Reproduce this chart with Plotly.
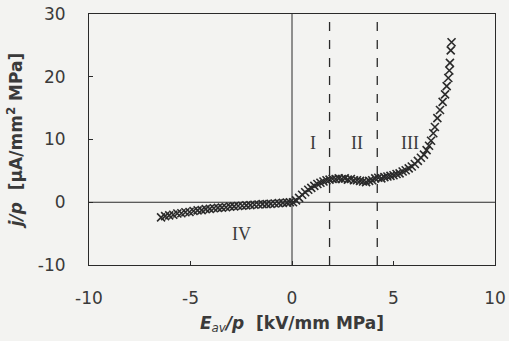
import plotly.graph_objects as go

# Data
x_neg = [-6.45, -6.25, -6.05, -5.85, -5.65, -5.45, -5.25, -5.05, -4.85, -4.65, -4.45,
         -4.25, -4.05, -3.85, -3.65, -3.45, -3.25, -3.05, -2.85, -2.65, -2.45, -2.25,
         -2.05, -1.85, -1.65, -1.45, -1.25, -1.05, -0.85, -0.65, -0.45, -0.25, -0.1]
y_neg = [-2.4, -2.2, -2.1, -2.0, -1.8, -1.75, -1.6, -1.55, -1.4, -1.3, -1.25,
         -1.1, -1.05, -0.95, -0.9, -0.85, -0.8, -0.7, -0.65, -0.6, -0.55, -0.5,
         -0.45, -0.4, -0.35, -0.3, -0.3, -0.25, -0.2, -0.15, -0.1, -0.05, 0.0]
x_pos = [0.05, 0.2, 0.35, 0.5, 0.65, 0.8, 0.95, 1.1, 1.25, 1.4, 1.55, 1.7, 1.85, 2.0,
         2.15, 2.3, 2.45, 2.6, 2.75, 2.9, 3.05, 3.2, 3.35, 3.5, 3.65, 3.8, 3.95, 4.1,
         4.25, 4.4, 4.55, 4.7, 4.85, 5.0, 5.15, 5.3, 5.45, 5.6, 5.75, 5.9, 6.05, 6.2,
         6.35, 6.5, 6.63, 6.75, 6.85, 6.96, 7.04, 7.16, 7.29, 7.42, 7.54, 7.62, 7.7,
         7.75, 7.78, 7.82, 7.86]
y_pos = [0.0, 0.3, 0.7, 1.2, 1.6, 2.0, 2.3, 2.6, 2.9, 3.1, 3.3, 3.5, 3.6, 3.7,
         3.7, 3.8, 3.7, 3.8, 3.6, 3.7, 3.5, 3.5, 3.4, 3.3, 3.2, 3.4, 3.5, 3.8,
         3.9, 3.8, 4.0, 4.1, 4.2, 4.3, 4.5, 4.6, 4.9, 5.1, 5.4, 5.7, 6.1, 6.6,
         7.1, 7.6, 8.3, 9.0, 9.8, 11.0, 12.0, 13.4, 14.7, 16.0, 17.2, 18.5, 19.8,
         21.0, 22.2, 24.2, 25.5]

region_bounds = [1.85, 4.2]
region_labels = ["I", "II", "III", "IV"]
region_label_x = [1.05, 3.2, 5.8, -2.5]
region_label_y = [9.4, 9.4, 9.4, -5.0]

x_ticks = [-10, -5, 0, 5, 10]
x_tick_text = ["-10", "-5", "0", "5", "10"]
y_ticks = [-10, 0, 10, 20, 30]
y_tick_text = ["-10", "0", "10", "20", "30"]

ink = "#2a2a2a"
txt = "#3a3a3a"
bg = "#f3f3f1"

fig = go.Figure()
fig.add_trace(go.Scatter(
    x=x_neg + x_pos, y=y_neg + y_pos, mode="markers",
    marker=dict(symbol="x-thin", size=8, line=dict(width=1.6, color=ink)),
    showlegend=False))

for xb in region_bounds:
    fig.add_shape(type="line", x0=xb, x1=xb, y0=-10, y1=30, xref="x", yref="y",
                  line=dict(color=ink, width=1.3, dash="dash"))
fig.add_shape(type="line", x0=0, x1=0, y0=-10, y1=30, line=dict(color=ink, width=1))
fig.add_shape(type="line", x0=-10, x1=10, y0=0, y1=0, line=dict(color=ink, width=1))

for t, xx, yy in zip(region_labels, region_label_x, region_label_y):
    fig.add_annotation(x=xx, y=yy, text=t, showarrow=False,
                       font=dict(family="Liberation Serif", size=18, color=txt))

fig.update_layout(
    width=509, height=341,
    margin=dict(l=89, r=14, t=14, b=76, autoexpand=False),
    paper_bgcolor=bg, plot_bgcolor=bg,
    font=dict(family="DejaVu Sans", size=17, color=txt),
    xaxis=dict(range=[-10, 10], tickvals=x_ticks, ticktext=x_tick_text,
               ticks="inside", ticklen=4, automargin=False, ticklabeloverflow="allow",
               tickcolor=ink, showline=True, mirror=True, linecolor=ink, linewidth=1,
               showgrid=False, zeroline=False, ticklabelstandoff=18,
               title=dict(text="<b><i>E</i></b><sub><i>av</i></sub><b><i>/p</i>  [kV/mm MPa]</b>",
                          font=dict(size=17), standoff=9)),
    yaxis=dict(range=[-10, 30], tickvals=y_ticks, ticktext=y_tick_text,
               ticks="inside", ticklen=4, automargin=False, ticklabeloverflow="allow",
               tickcolor=ink, showline=True, mirror=True, linecolor=ink, linewidth=1,
               showgrid=False, zeroline=False, ticklabelstandoff=19,
               title=dict(text="<b><i>j/p</i>  [μA/mm<sup>2</sup> MPa]</b>",
                          font=dict(size=17), standoff=10)),
)

fig.write_html("out.html",
               config={"displayModeBar": False},
               post_script="document.body.style.margin='0';"
                           "document.body.style.background='" + bg + "';")
